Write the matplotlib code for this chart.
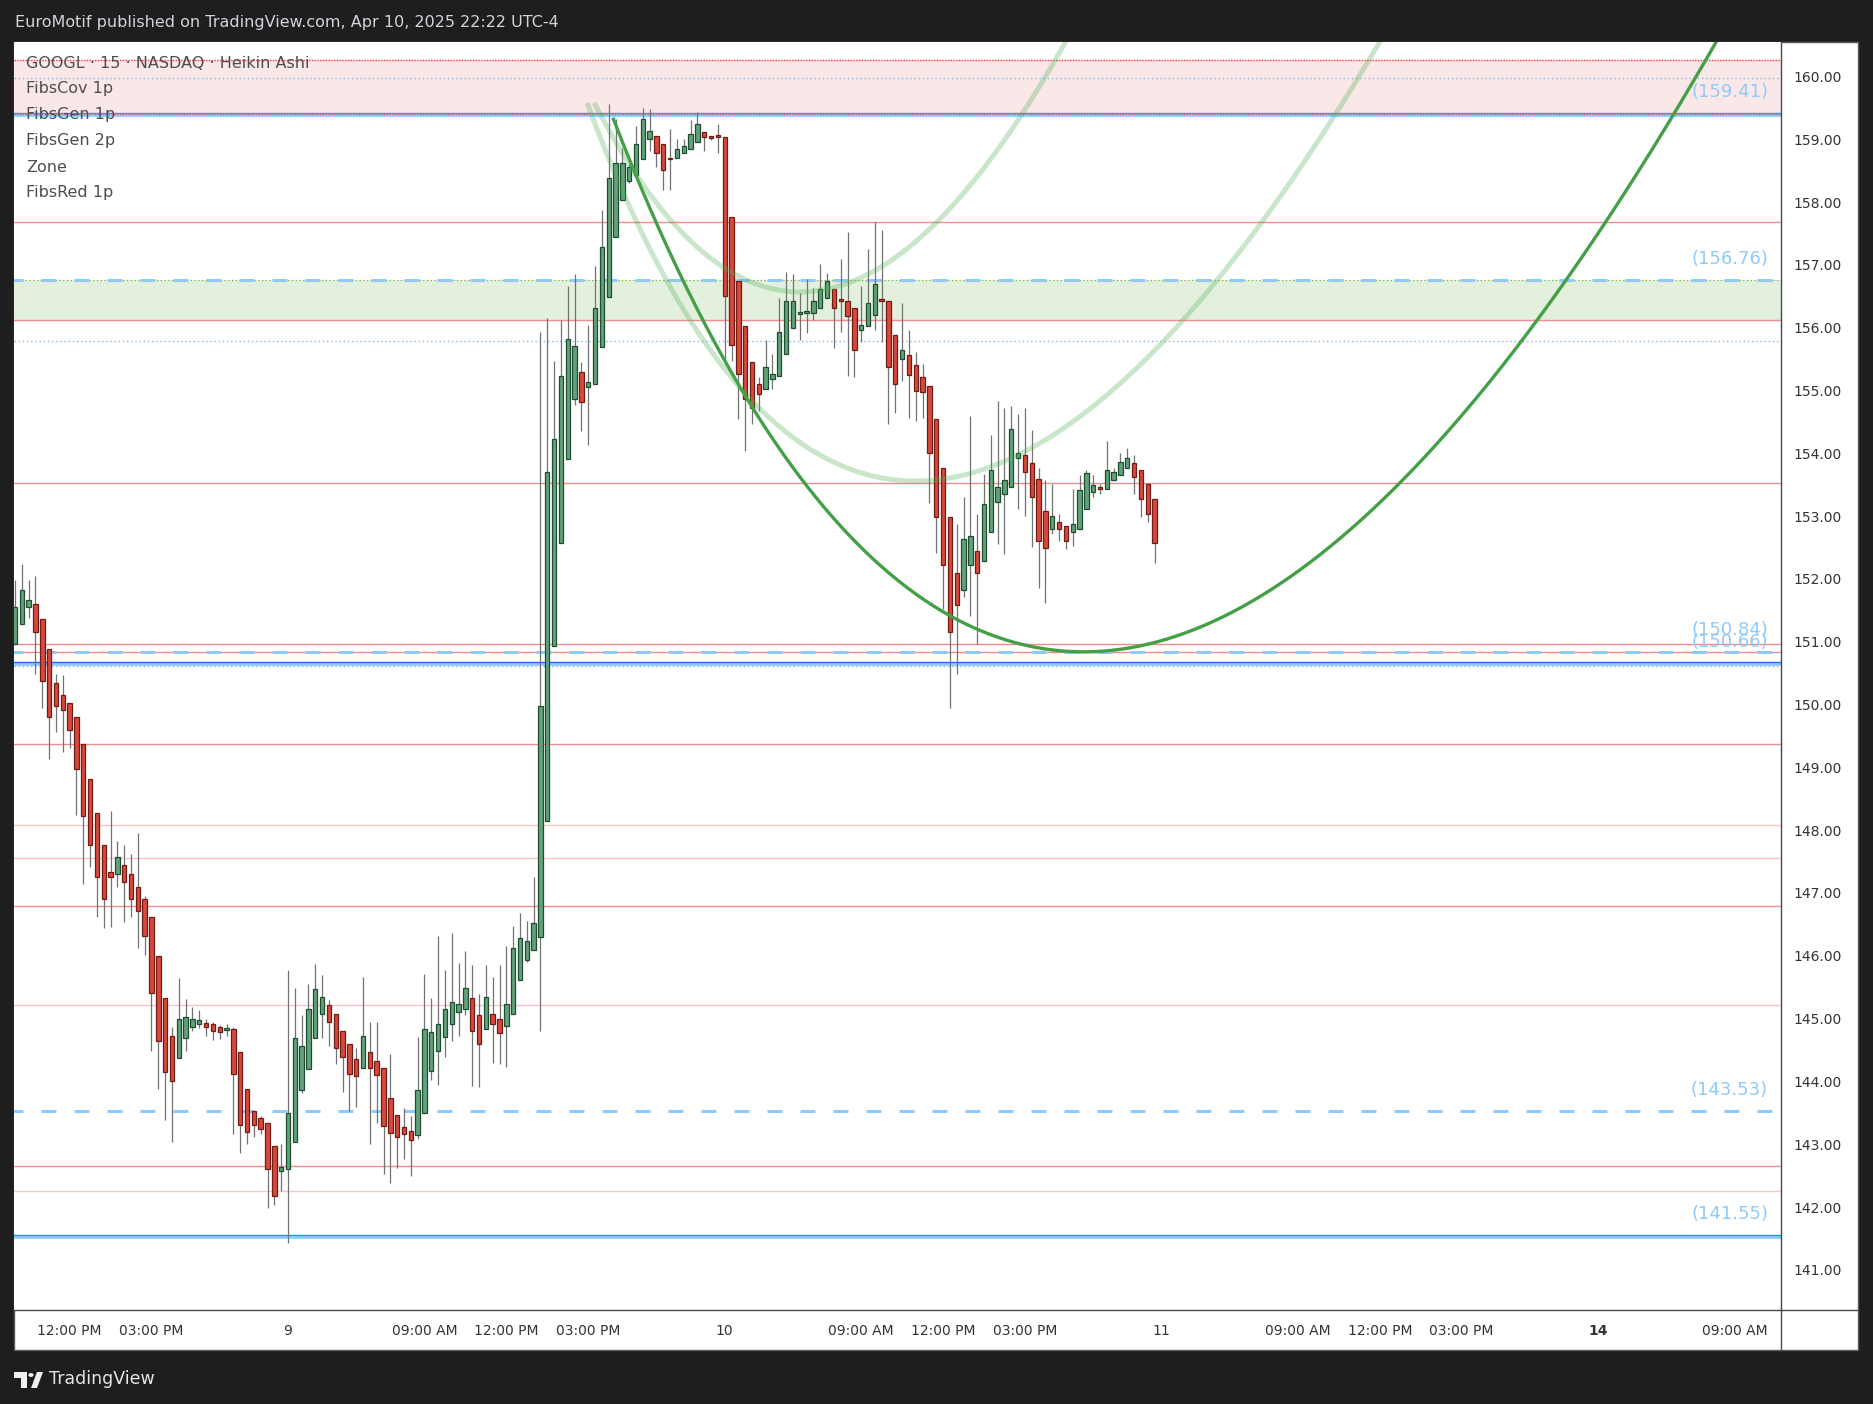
import numpy as np
import matplotlib.pyplot as plt
from matplotlib.patches import Rectangle, Polygon, Circle
from matplotlib.lines import Line2D

# GOOGL 15m heikin ashi, Apr 8 10:00 -> Apr 10 19:45 (extended hours)
opens = [150.97, 151.28, 151.55, 151.60, 151.37, 150.88, 150.34, 150.15, 150.03, 149.81,
         149.38, 148.81, 148.28, 147.77, 147.34, 147.30, 147.44, 147.31, 147.10, 146.91,
         146.61, 146.00, 145.32, 144.73, 144.37, 144.69, 144.86, 144.92, 144.93, 144.91,
         144.86, 144.82, 144.83, 144.47, 143.88, 143.53, 143.41, 143.33, 142.97, 142.57,
         142.60, 143.04, 143.87, 144.20, 144.69, 145.07, 145.21, 145.07, 144.80, 144.59,
         144.35, 144.21, 144.47, 144.33, 144.21, 143.74, 143.46, 143.28, 143.21, 143.14,
         143.49, 144.16, 144.48, 144.70, 144.92, 145.10, 145.16, 145.32, 145.05, 144.83,
         145.08, 145.00, 144.89, 145.07, 145.61, 145.94, 146.09, 146.30, 148.14, 150.93,
         152.58, 153.91, 154.86, 155.29, 155.05, 155.10, 155.70, 156.49, 157.44, 158.03,
         158.33, 158.44, 158.68, 159.00, 159.06, 158.92, 158.71, 158.70, 158.78, 158.84,
         158.95, 159.11, 159.06, 159.05, 159.03, 157.77, 156.75, 156.02, 155.45, 155.10,
         155.02, 155.19, 155.23, 155.58, 156.00, 156.22, 156.23, 156.23, 156.32, 156.47,
         156.61, 156.45, 156.43, 156.31, 155.97, 156.02, 156.21, 156.45, 156.43, 155.89,
         155.50, 155.56, 155.40, 155.21, 155.08, 154.54, 153.76, 152.99, 152.09, 151.83,
         152.23, 152.45, 152.28, 152.74, 153.23, 153.36, 153.46, 153.92, 153.97, 153.84,
         153.59, 153.09, 152.80, 152.90, 152.85, 152.74, 152.80, 153.11, 153.39, 153.44,
         153.43, 153.58, 153.65, 153.76, 153.84, 153.74, 153.51, 153.27]
closes = [151.56, 151.83, 151.66, 151.15, 150.37, 149.80, 149.97, 149.92, 149.59, 148.97,
          148.22, 147.77, 147.26, 146.91, 147.25, 147.58, 147.17, 146.90, 146.72, 146.32,
          145.40, 144.64, 144.15, 144.00, 145.00, 145.02, 144.99, 144.97, 144.86, 144.81,
          144.79, 144.84, 144.12, 143.30, 143.19, 143.30, 143.24, 142.60, 142.17, 142.63,
          143.49, 144.69, 144.56, 145.15, 145.47, 145.34, 144.94, 144.53, 144.39, 144.12,
          144.08, 144.73, 144.21, 144.10, 143.29, 143.18, 143.12, 143.16, 143.07, 143.86,
          144.84, 144.78, 144.92, 145.15, 145.27, 145.23, 145.48, 144.80, 144.59, 145.34,
          144.92, 144.77, 145.24, 146.13, 146.29, 146.23, 146.52, 149.97, 153.71, 154.23,
          155.23, 155.82, 155.71, 154.81, 155.14, 156.32, 157.28, 158.38, 158.62, 158.62,
          158.56, 158.92, 159.32, 159.13, 158.78, 158.51, 158.68, 158.84, 158.90, 159.08,
          159.25, 159.03, 159.02, 159.04, 156.51, 155.73, 155.27, 154.87, 154.73, 154.94,
          155.37, 155.26, 155.94, 156.42, 156.43, 156.23, 156.24, 156.42, 156.61, 156.74,
          156.31, 156.42, 156.18, 155.64, 156.05, 156.39, 156.69, 156.42, 155.37, 155.10,
          155.64, 155.24, 155.00, 154.97, 154.00, 152.98, 152.23, 151.16, 151.58, 152.63,
          152.68, 152.10, 153.19, 153.73, 153.47, 153.57, 154.38, 154.01, 153.71, 153.31,
          152.61, 152.50, 153.01, 152.80, 152.61, 152.88, 153.41, 153.68, 153.49, 153.43,
          153.74, 153.71, 153.87, 153.92, 153.63, 153.27, 153.03, 152.57]
highs = [151.98, 152.24, 151.98, 152.05, 151.37, 150.88, 150.48, 150.47, 150.03, 149.81,
         149.38, 148.81, 148.28, 147.77, 148.30, 147.83, 147.76, 147.62, 147.96, 146.95,
         146.61, 146.00, 145.32, 144.87, 145.65, 145.31, 145.19, 145.14, 145.00, 144.95,
         144.90, 144.91, 144.87, 144.47, 143.88, 143.53, 143.45, 143.33, 142.97, 143.00,
         145.77, 145.49, 145.05, 145.55, 145.87, 145.70, 145.30, 145.07, 144.80, 144.59,
         144.53, 145.67, 144.94, 144.94, 144.21, 144.44, 143.46, 143.58, 143.45, 144.71,
         145.71, 145.33, 146.31, 145.77, 146.36, 145.88, 146.08, 145.85, 145.39, 145.85,
         145.66, 145.85, 146.15, 146.48, 146.68, 146.55, 147.25, 155.93, 156.15, 155.47,
         156.13, 156.67, 156.86, 155.45, 156.05, 156.98, 157.88, 159.56, 159.32, 158.86,
         158.60, 159.21, 159.50, 159.49, 159.06, 158.92, 159.17, 159.00, 159.00, 159.31,
         159.43, 159.11, 159.06, 159.25, 159.03, 157.77, 156.75, 156.02, 155.45, 155.22,
         155.80, 155.58, 156.47, 156.88, 156.85, 156.55, 156.77, 156.63, 157.01, 156.87,
         156.61, 157.09, 157.52, 156.31, 156.67, 157.25, 157.69, 157.55, 156.43, 155.89,
         156.40, 155.96, 155.62, 155.43, 155.08, 154.54, 153.76, 152.99, 152.88, 153.31,
         154.59, 153.04, 153.67, 154.30, 154.83, 154.72, 154.76, 154.63, 154.72, 154.37,
         153.76, 153.57, 153.52, 153.03, 152.85, 153.44, 153.66, 153.74, 153.66, 153.51,
         154.20, 153.76, 154.00, 154.08, 153.98, 153.74, 153.51, 153.27]
lows = [150.97, 151.28, 151.38, 150.48, 149.95, 149.14, 149.57, 149.25, 149.31, 148.24,
        147.15, 147.42, 146.62, 146.45, 146.46, 147.10, 146.54, 146.61, 146.13, 146.02,
        144.48, 143.88, 143.39, 143.04, 144.37, 144.49, 144.81, 144.85, 144.72, 144.66,
        144.67, 144.73, 143.16, 142.86, 143.01, 143.11, 143.16, 141.98, 142.03, 142.26,
        141.42, 143.04, 143.82, 144.20, 144.69, 144.69, 144.57, 144.27, 143.83, 143.53,
        143.59, 144.21, 143.01, 143.33, 142.52, 142.38, 142.62, 142.76, 142.50, 143.09,
        143.49, 144.03, 143.95, 144.39, 144.64, 144.73, 145.05, 143.93, 143.91, 144.83,
        144.30, 144.28, 144.23, 145.07, 145.61, 145.90, 146.09, 144.80, 148.14, 150.93,
        152.58, 153.91, 154.77, 154.36, 154.14, 155.10, 155.70, 156.49, 157.44, 158.03,
        158.31, 158.44, 158.68, 158.82, 158.56, 158.19, 158.19, 158.70, 158.78, 158.84,
        158.95, 158.82, 158.99, 158.79, 155.49, 155.47, 154.55, 154.03, 154.46, 154.68,
        155.02, 155.02, 155.23, 155.58, 156.00, 155.81, 155.91, 156.13, 156.32, 156.47,
        155.67, 155.94, 155.23, 155.21, 155.78, 156.02, 155.97, 155.77, 154.46, 154.64,
        155.16, 154.57, 154.51, 154.57, 153.21, 152.41, 151.52, 149.95, 150.48, 151.72,
        151.41, 150.96, 152.28, 152.74, 152.55, 152.39, 153.46, 153.12, 153.01, 152.51,
        151.85, 151.61, 152.72, 152.61, 152.47, 152.53, 152.80, 153.11, 153.31, 153.35,
        153.43, 153.58, 153.65, 153.76, 153.36, 152.99, 152.90, 152.25]

price_ticks = list(range(141, 161))
time_pos = [8, 20, 40, 60, 72, 84, 104, 124, 136, 148, 168, 188, 200, 212, 232, 252]
time_lbl = ['12:00 PM', '03:00 PM', '9', '09:00 AM', '12:00 PM', '03:00 PM', '10',
            '09:00 AM', '12:00 PM', '03:00 PM', '11', '09:00 AM', '12:00 PM', '03:00 PM',
            '14', '09:00 AM']

# drawn levels
red_zone = [159.41, 160.26]
green_zone = [156.12, 156.76]
red_levels = [157.68, 156.12, 153.53, 150.96, 150.84, 149.37, 146.80, 142.65]
pink_levels = [148.09, 147.55, 145.21, 142.26]
dash_levels = [156.76, 150.84, 143.53]
band_levels = [159.41, 150.66, 141.55]
band_colors = ['#3aa0d8', '#2962ff', '#00acc1']
dotted_blue = [159.98, 155.79, 150.62]
label_levels = [159.41, 156.76, 150.84, 150.66, 143.53, 141.55]

# fib arcs: k = kc + w*s + tilt*s^2, p = base + s^2
arc_kc = [156.6, 115.1, 131.97]
arc_w = [26.6, 18.37, 22.56]
arc_tilt = [1.01, 0.55, 1.20]
arc_base = [150.84, 156.57, 153.56]
arc_start = [159.32, 159.58, 159.58]

legend_names = ['GOOGL \u00b7 15 \u00b7 NASDAQ \u00b7 Heikin Ashi', 'FibsCov 1p', 'FibsGen 1p',
                'FibsGen 2p', 'Zone', 'FibsRed 1p']

W, H = 1874, 1404
fig = plt.figure(figsize=(W / 100, H / 100), dpi=100, facecolor='#1e1e1e')
fig.patches.append(Rectangle((14 / W, 1 - 1350 / H), 1844 / W, 1308 / H, transform=fig.transFigure,
                             facecolor='white', edgecolor='#5a5a5a', lw=1, zorder=-1))
ax = fig.add_axes([14 / W, 1 - 1310 / H, (1781 - 14) / W, (1310 - 42) / H])
ax.set_facecolor('white')

ax.axhspan(red_zone[0], red_zone[1], color='#fae8e9', lw=0, zorder=0)
ax.axhspan(green_zone[0], green_zone[1], color='#e4f0de', lw=0, zorder=0)
ax.axhline(red_zone[1], color='#f23645', lw=1, ls=(0, (1, 1)), zorder=1)

for p in red_levels:
    ax.axhline(p, color='#f08c8c', lw=1, zorder=1)
for p in pink_levels:
    ax.axhline(p, color='#f8c6c9', lw=1, zorder=1)
for p in dotted_blue:
    ax.axhline(p, color='#7fb6ee', lw=1, ls=(0, (1, 2)), zorder=1)
for p, c in zip(band_levels, band_colors):
    ax.axhline(p - 0.02, color='#90caf9', lw=2.0, zorder=1)
    ax.axhline(p + 0.01, color=c, lw=1.0, zorder=1)
ax.axhline(red_zone[0], color='#e0405a', lw=0.8, ls=(0, (1, 1.5)), zorder=1)
ax.axhline(green_zone[1], color='#7cb342', lw=0.9, ls=(0, (1, 2)), zorder=1)
for p in dash_levels:
    ax.plot([-1, 257.8], [p, p], color='#90caf9', lw=2.2, ls=(0, (4.9, 5.9)), zorder=1)

x = np.arange(len(opens))
o = np.array(opens)
c = np.array(closes)
up = c >= o
body_lo = np.minimum(o, c)
body_h = np.maximum(np.abs(c - o), 0.03)
ax.vlines(x, lows, highs, color='#727272', lw=0.9, zorder=2)
ax.bar(x[up], body_h[up], bottom=body_lo[up], width=0.64, color='#62a27b',
       edgecolor='#1f4d2f', linewidth=0.9, zorder=3)
ax.bar(x[~up], body_h[~up], bottom=body_lo[~up], width=0.64, color='#d8493b',
       edgecolor='#6e1c14', linewidth=0.9, zorder=3)

for i in range(3):
    s = np.linspace(-np.sqrt(arc_start[i] - arc_base[i]), 3.4, 500)
    if i == 0:
        ax.plot(arc_kc[i] + arc_w[i] * s + arc_tilt[i] * s ** 2, arc_base[i] + s ** 2,
                color='#43a047', lw=2.4, zorder=4)
    else:
        ax.plot(arc_kc[i] + arc_w[i] * s + arc_tilt[i] * s ** 2, arc_base[i] + s ** 2,
                color='#4caf50', alpha=0.3, lw=3.6, zorder=4, solid_capstyle='butt')

for p in label_levels:
    ax.text(256.9, p + 0.34, '(%.2f)' % p, ha='right', va='center', color='#90caf9', fontsize=13, zorder=5)

ax.set_xlim(-0.15, 258.8)
ax.set_ylim(140.36, 160.55)
ax.yaxis.tick_right()
ax.set_yticks(price_ticks)
ax.set_yticklabels(['%.2f' % v for v in price_ticks])
ax.set_xticks(time_pos)
ax.set_xticklabels(time_lbl)
ax.tick_params(axis='y', length=0, pad=9, labelsize=10, labelcolor='#333333')
ax.tick_params(axis='x', length=0, pad=10, labelsize=10, labelcolor='#333333')
for lab in ax.get_xticklabels():
    if lab.get_text() == '14':
        lab.set_fontweight('bold')
for side in ['top', 'left']:
    ax.spines[side].set_visible(False)
for side in ['right', 'bottom']:
    ax.spines[side].set_color('#4a4a4a')
    ax.spines[side].set_linewidth(1)

fig.lines.append(Line2D([1781 / W, 1781 / W], [1 - 1310 / H, 1 - 1350 / H], transform=fig.transFigure,
                        color='#4a4a4a', lw=1))
fig.lines.append(Line2D([1781 / W, 1858 / W], [1 - 1310 / H, 1 - 1310 / H], transform=fig.transFigure,
                        color='#4a4a4a', lw=1))

for i, name in enumerate(legend_names):
    fig.text(26 / W, 1 - (63 + 26 * i) / H, name, color='#4d4d4d', fontsize=11.5, va='center', zorder=6)

fig.text(15 / W, 1 - 23 / H, 'EuroMotif published on TradingView.com, Apr 10, 2025 22:22 UTC-4',
         color='#d1d4dc', fontsize=11.5, va='center')

# TradingView logo
def fx(px):
    return px / W

def fy(py):
    return 1 - py / H

fig.patches.append(Polygon([(fx(14), fy(1372)), (fx(27), fy(1372)), (fx(27), fy(1388)), (fx(21), fy(1388)),
                            (fx(21), fy(1378)), (fx(14), fy(1378))], closed=True, transform=fig.transFigure,
                           facecolor='#f0f0f0', lw=0))
fig.patches.append(Circle((fx(31), fy(1375)), 2.6 / W, transform=fig.transFigure, facecolor='#f0f0f0', lw=0))
fig.patches.append(Polygon([(fx(31), fy(1388)), (fx(37), fy(1388)), (fx(43), fy(1372)), (fx(37), fy(1372))],
                           closed=True, transform=fig.transFigure, facecolor='#f0f0f0', lw=0))
fig.text(49 / W, 1 - 1379 / H, 'TradingView', color='#e6e6e6', fontsize=12.5, va='center')

fig.savefig('out.png', dpi=100, facecolor=fig.get_facecolor())
